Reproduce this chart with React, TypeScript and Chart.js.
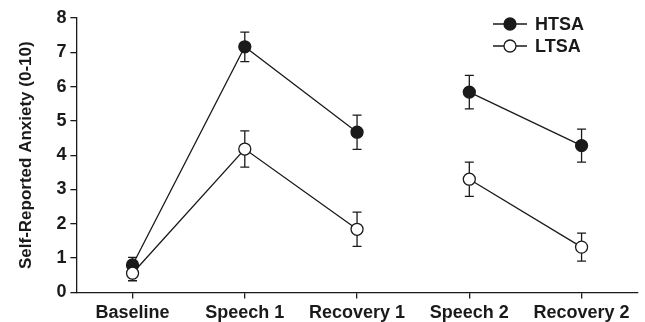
import React, { useEffect, useRef } from "react";
import { Chart, registerables } from "chart.js";

Chart.register(...registerables);

const categories = ["Baseline", "Speech 1", "Recovery 1", "Speech 2", "Recovery 2"];
const htsaValues = [0.8, 7.16, 4.67, 5.84, 4.28];
const htsaErrors = [0.22, 0.43, 0.5, 0.49, 0.48];
const ltsaValues = [0.56, 4.18, 1.84, 3.3, 1.32];
const ltsaErrors = [0.22, 0.53, 0.5, 0.5, 0.41];
const yTicks = [0, 1, 2, 3, 4, 5, 6, 7, 8];
const seriesNames = ["HTSA", "LTSA"];

const FONT = "'Liberation Sans', Arial, Helvetica, sans-serif";
const INK = "#1a1a1a";

const errorBarPlugin = {
  id: "errorBars",
  beforeDatasetsDraw(chart: any) {
    const ctx = chart.ctx;
    const yScale = chart.scales.y;
    ctx.save();
    ctx.strokeStyle = INK;
    ctx.lineWidth = 1.3;
    chart.data.datasets.forEach((ds: any, di: number) => {
      const meta = chart.getDatasetMeta(di);
      const errs: number[] = ds.errors || [];
      meta.data.forEach((pt: any, i: number) => {
        const v = ds.data[i];
        const e = errs[i];
        if (v == null || e == null) return;
        const x = pt.x;
        const yTop = yScale.getPixelForValue(v + e);
        const yBot = yScale.getPixelForValue(v - e);
        ctx.beginPath();
        ctx.moveTo(x, yTop);
        ctx.lineTo(x, yBot);
        ctx.moveTo(x - 4.5, yTop);
        ctx.lineTo(x + 4.5, yTop);
        ctx.moveTo(x - 4.5, yBot);
        ctx.lineTo(x + 4.5, yBot);
        ctx.stroke();
      });
    });
    ctx.restore();
  },
};

const legendPlugin = {
  id: "customLegend",
  afterDraw(chart: any) {
    const ctx = chart.ctx;
    ctx.save();
    const items = [
      { label: seriesNames[0], fill: INK, y: 24 },
      { label: seriesNames[1], fill: "#ffffff", y: 46 },
    ];
    items.forEach((it) => {
      ctx.strokeStyle = INK;
      ctx.lineWidth = 1.3;
      ctx.beginPath();
      ctx.moveTo(493, it.y);
      ctx.lineTo(527, it.y);
      ctx.stroke();
      ctx.beginPath();
      ctx.arc(510, it.y, 6, 0, Math.PI * 2);
      ctx.fillStyle = it.fill;
      ctx.fill();
      ctx.stroke();
      ctx.fillStyle = INK;
      ctx.font = `bold 18px ${FONT}`;
      ctx.textBaseline = "middle";
      ctx.textAlign = "left";
      ctx.fillText(it.label, 535, it.y + 1);
    });
    ctx.restore();
  },
};

export default function App() {
  const ref = useRef<HTMLCanvasElement | null>(null);

  useEffect(() => {
    if (!ref.current) return;
    const gapSegment = (ctx: any) => (ctx.p0DataIndex === 2 ? "transparent" : INK);
    const chart = new Chart(ref.current, {
      type: "line",
      data: {
        labels: categories,
        datasets: [
          {
            label: seriesNames[0],
            data: htsaValues,
            errors: htsaErrors,
            borderColor: INK,
            borderWidth: 1.3,
            pointRadius: 6,
            pointBackgroundColor: INK,
            pointBorderColor: INK,
            pointBorderWidth: 1.3,
            order: 2,
            segment: { borderColor: gapSegment },
          } as any,
          {
            label: seriesNames[1],
            data: ltsaValues,
            errors: ltsaErrors,
            borderColor: INK,
            borderWidth: 1.3,
            pointRadius: 6,
            pointBackgroundColor: "#ffffff",
            pointBorderColor: INK,
            pointBorderWidth: 1.3,
            order: 1,
            segment: { borderColor: gapSegment },
          } as any,
        ],
      },
      options: {
        responsive: false,
        animation: false,
        layout: { padding: { top: 18, right: 2, left: 16, bottom: -6 } },
        plugins: { legend: { display: false }, tooltip: { enabled: false } },
        scales: {
          x: {
            offset: true,
            grid: { display: true, drawOnChartArea: false, drawTicks: true, tickLength: 6, color: INK, lineWidth: 1.3 },
            border: { display: true, color: INK, width: 1.3 },
            ticks: { color: INK, font: { family: FONT, size: 18, weight: "bold" }, padding: 4, maxRotation: 0 },
          },
          y: {
            min: 0,
            max: 8,
            afterBuildTicks: (axis: any) => {
              axis.ticks = yTicks.map((v) => ({ value: v }));
            },
            grid: { display: true, drawOnChartArea: false, drawTicks: true, tickLength: 6, color: INK, lineWidth: 1.3 },
            border: { display: true, color: INK, width: 1.3 },
            ticks: { color: INK, font: { family: FONT, size: 18, weight: "bold" }, padding: 4 },
            title: {
              display: true,
              text: "Self-Reported Anxiety (0-10)",
              color: INK,
              font: { family: FONT, size: 17, weight: "bold" },
              padding: { top: 0, bottom: 16 },
            },
          },
        },
      },
      plugins: [errorBarPlugin, legendPlugin],
    });
    return () => chart.destroy();
  }, []);

  return (
    <div style={{ position: "absolute", left: 0, top: 0, width: 645, height: 322, background: "#fff" }}>
      <canvas ref={ref} width={645} height={322} />
    </div>
  );
}
